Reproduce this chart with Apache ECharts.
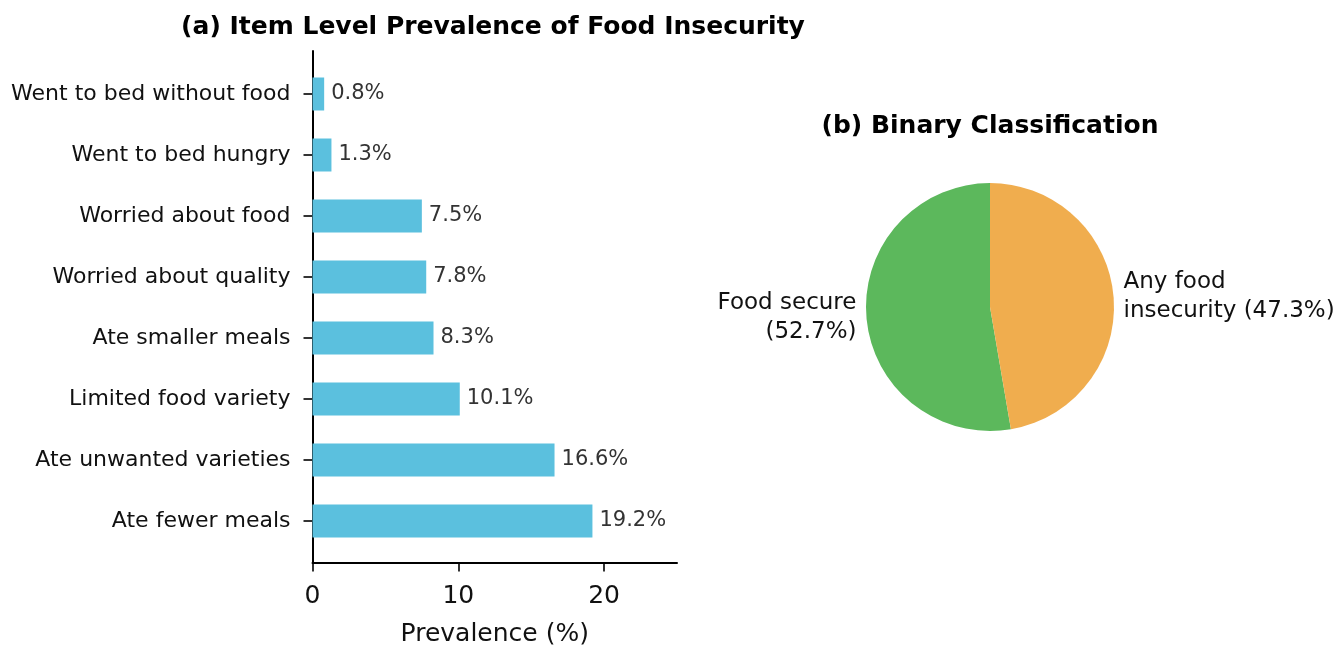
<!DOCTYPE html>
<html>
<head>
<meta charset="utf-8">
<script src="https://cdn.jsdelivr.net/npm/echarts@6/dist/echarts.min.js"></script>
<style>
  html, body { margin: 0; padding: 0; background: #fff; }
  #chart { width: 1341px; height: 645px; }
</style>
</head>
<body>
<div id="chart"></div>
<script>
// Panel (a): food-insecurity items, listed bottom to top
const itemNames = [
  'Ate fewer meals',
  'Ate unwanted varieties',
  'Limited food variety',
  'Ate smaller meals',
  'Worried about quality',
  'Worried about food',
  'Went to bed hungry',
  'Went to bed without food'
];
const itemPrevalence = [19.2, 16.6, 10.1, 8.3, 7.8, 7.5, 1.3, 0.8];
const xTickValues = [0, 10, 20];

// Panel (b): binary classification
const classNames = ['Food secure', 'Any food insecurity'];
const classShares = [52.7, 47.3];
const classLabelHeads = ['Food secure\n', 'Any food\ninsecurity '];
const classColors = ['#5cb85c', '#f0ad4e'];

const FONT = 'DejaVu Sans';
const BAR_COLOR = '#5bc0de';

const chart = echarts.init(document.getElementById('chart'), null, { renderer: 'canvas' });

const plotLeft = 312.5;
const plotWidth = 364.5;

chart.setOption({
  animation: false,
  backgroundColor: '#ffffff',
  textStyle: { fontFamily: FONT },
  grid: [
    // frame grid: spines, x ticks and x labels
    { left: plotLeft, top: 51, width: plotWidth, height: 511.5, outerBoundsMode: 'none', containLabel: false },
    // bar grid: category bands
    { left: plotLeft, top: 63.5, width: plotWidth, height: 488, outerBoundsMode: 'none', containLabel: false }
  ],
  xAxis: [
    {
      gridIndex: 0, type: 'value', min: 0, max: 25,
      axisLine: { show: true, lineStyle: { color: '#000', width: 2 } },
      axisTick: { show: true, length: 9, customValues: xTickValues, lineStyle: { color: '#000', width: 1.6 } },
      axisLabel: { customValues: xTickValues, margin: 21, fontSize: 25, color: '#111', fontFamily: FONT },
      splitLine: { show: false },
      name: 'Prevalence (%)', nameLocation: 'middle', nameGap: 59,
      nameTextStyle: { fontSize: 25, color: '#111', fontFamily: FONT }
    },
    {
      gridIndex: 1, type: 'value', min: 0, max: 25, show: false
    }
  ],
  yAxis: [
    {
      gridIndex: 0, type: 'value', min: 0, max: 1,
      axisLine: { show: true, lineStyle: { color: '#000', width: 2 } },
      axisTick: { show: false }, axisLabel: { show: false }, splitLine: { show: false }
    },
    {
      gridIndex: 1, type: 'category', data: itemNames,
      axisLine: { show: false },
      axisTick: { show: true, alignWithLabel: true, length: 9, lineStyle: { color: '#000', width: 1.6 } },
      axisLabel: { margin: 22, fontSize: 22, color: '#111', fontFamily: FONT },
      splitLine: { show: false }
    }
  ],
  graphic: [
    {
      type: 'text', x: 493, y: 27,
      style: {
        text: '(a) Item Level Prevalence of Food Insecurity',
        font: 'bold 25px "DejaVu Sans"', fill: '#000',
        textAlign: 'center', textVerticalAlign: 'middle'
      }
    },
    {
      type: 'text', x: 990, y: 126,
      style: {
        text: '(b) Binary Classification',
        font: 'bold 25px "DejaVu Sans"', fill: '#000',
        textAlign: 'center', textVerticalAlign: 'middle'
      }
    }
  ],
  series: [
    {
      type: 'bar', xAxisIndex: 1, yAxisIndex: 1,
      data: itemPrevalence,
      barWidth: 33,
      itemStyle: { color: BAR_COLOR },
      label: {
        show: true, position: 'right', distance: 7,
        fontSize: 21, color: '#333', fontFamily: FONT,
        formatter: p => p.value.toFixed(1) + '%'
      }
    },
    {
      type: 'pie',
      center: [990, 307],
      radius: 124,
      startAngle: 90,
      clockwise: false,
      avoidLabelOverlap: false,
      data: classNames.map((n, i) => ({ name: n, value: classShares[i], itemStyle: { color: classColors[i] } })),
      label: {
        show: true, position: 'outside',
        fontSize: 23, color: '#111', fontFamily: FONT, lineHeight: 29,
        formatter: p => classLabelHeads[p.dataIndex] + '(' + p.value.toFixed(1) + '%)'
      },
      labelLine: { show: false, length: 5, length2: 0 },
      emphasis: { disabled: true }
    }
  ]
});
</script>
</body>
</html>
